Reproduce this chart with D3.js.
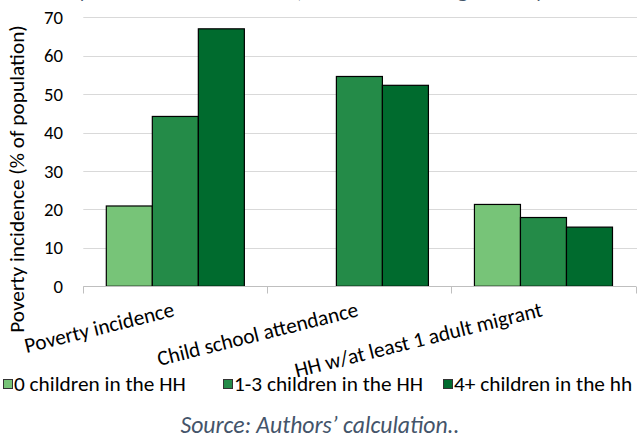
<!DOCTYPE html>
<html><head><meta charset="utf-8">
<script src="https://cdn.jsdelivr.net/npm/d3@7"></script>
<style>
html,body{margin:0;padding:0;background:#fff;overflow:hidden}
svg{display:block}
text{font-family:Carlito, Calibri, Lato, "Open Sans", sans-serif}
</style></head><body>
<script>
const categories = ["Poverty incidence", "Child school attendance", "HH w/at least 1 adult migrant"];
const seriesNames = ["0 children in the HH", "1-3 children in the HH", "4+ children in the hh"];
const values0 = [20.9, null, 21.3];
const values1 = [44.2, 54.6, 17.9];
const values2 = [67.0, 52.3, 15.4];
const yTicks = [0, 10, 20, 30, 40, 50, 60, 70];
const colors = ["#77c478", "#248b48", "#006b2e"];
const yTitle = "Poverty incidence (% of population)";
const sourceText = "Source: Authors\u2019 calculation..";
const titleText = "Poverty incidence and outcomes, and household migration by number of children";

const W = 639, H = 443;
const svg = d3.select("body").append("svg").attr("width", W).attr("height", H);
const fsLab = 21.3;

const seriesVals = [values0, values1, values2];
const x = d3.scaleBand().domain(categories).range([83.3, 635.5]).paddingInner(0).paddingOuter(0);
const xs = d3.scaleBand().domain(seriesNames).range([0, x.bandwidth()]).paddingInner(0).paddingOuter(0.5);
const y = d3.scaleLinear().domain([0, 70]).range([286.3, 17.3]);

// clipped title at top (only descenders visible)
svg.append("text").attr("x", 25).attr("y", -2)
  .attr("font-size", 21).attr("font-style", "italic").attr("fill", "#44546a")
  .text(titleText);

// gridlines
svg.append("g").selectAll("line").data(yTicks.filter(d => d > 0)).join("line")
  .attr("x1", x.range()[0]).attr("x2", 637)
  .attr("y1", d => Math.round(y(d)) + 0.5).attr("y2", d => Math.round(y(d)) + 0.5)
  .attr("stroke", "#d9d9d9").attr("stroke-width", 1);

// bars
const groups = svg.append("g").selectAll("g").data(categories).join("g")
  .attr("transform", d => `translate(${x(d)},0)`);
groups.selectAll("rect")
  .data((c, ci) => seriesNames.map((s, si) => ({s, si, v: seriesVals[si][ci]})).filter(d => d.v != null))
  .join("rect")
  .attr("x", d => xs(d.s)).attr("width", xs.bandwidth())
  .attr("y", d => y(d.v)).attr("height", d => y(0) - y(d.v))
  .attr("fill", d => colors[d.si]).attr("stroke", "#000").attr("stroke-width", 1.2);

// x axis
const xAxisY = Math.round(y(0)) + 0.5;
svg.append("line").attr("x1", x.range()[0]).attr("x2", 636).attr("y1", xAxisY).attr("y2", xAxisY)
  .attr("stroke", "#bfbfbf").attr("stroke-width", 1);
const bounds = categories.map(c => x(c)).concat([x(categories[categories.length - 1]) + x.bandwidth()]);
svg.append("g").selectAll("line").data(bounds).join("line")
  .attr("x1", d => Math.round(d) + 0.5).attr("x2", d => Math.round(d) + 0.5)
  .attr("y1", xAxisY).attr("y2", xAxisY + 7)
  .attr("stroke", "#bfbfbf");

// x labels rotated
svg.append("g").selectAll("text").data(categories).join("text")
  .attr("transform", d => `translate(${x(d) + x.bandwidth() / 2},${316}) rotate(-14)`)
  .attr("text-anchor", "end")
  .attr("font-size", fsLab).attr("fill", "#000").text(d => d);

// y tick labels
svg.append("g").selectAll("text").data(yTicks).join("text")
  .attr("x", 63).attr("y", d => y(d)).attr("dy", "0.35em")
  .attr("text-anchor", "end").attr("font-size", 18.7).attr("fill", "#000").text(d => d);

// y title
svg.append("text").attr("transform", `translate(17,${179}) rotate(-90)`)
  .attr("text-anchor", "middle").attr("dy", "0.35em")
  .attr("font-size", fsLab).attr("fill", "#000").text(yTitle);

// legend (equal-width slots)
const leg = svg.append("g");
const items = leg.selectAll("g").data(seriesNames).join("g");
items.append("text").attr("x", 11).attr("y", 384).attr("dy", "0.35em")
  .attr("font-size", fsLab).attr("fill", "#000").text(d => d);
let maxW = 0;
items.selectAll("text").each(function () { maxW = Math.max(maxW, this.getComputedTextLength()); });
const slot = maxW + 11 + 20;
items.attr("transform", (d, i) => `translate(${3 + i * slot},0)`);
items.append("rect").attr("x", 0.5).attr("y", 379.5).attr("width", 9).attr("height", 9)
  .attr("fill", (d, i) => colors[i]).attr("stroke", "#333").attr("stroke-width", 1);

// source
svg.append("text").attr("x", 320).attr("y", 433).attr("text-anchor", "middle")
  .attr("font-size", 23.7).attr("font-style", "italic").attr("fill", "#44546a").text(sourceText);
</script>
</body></html>
